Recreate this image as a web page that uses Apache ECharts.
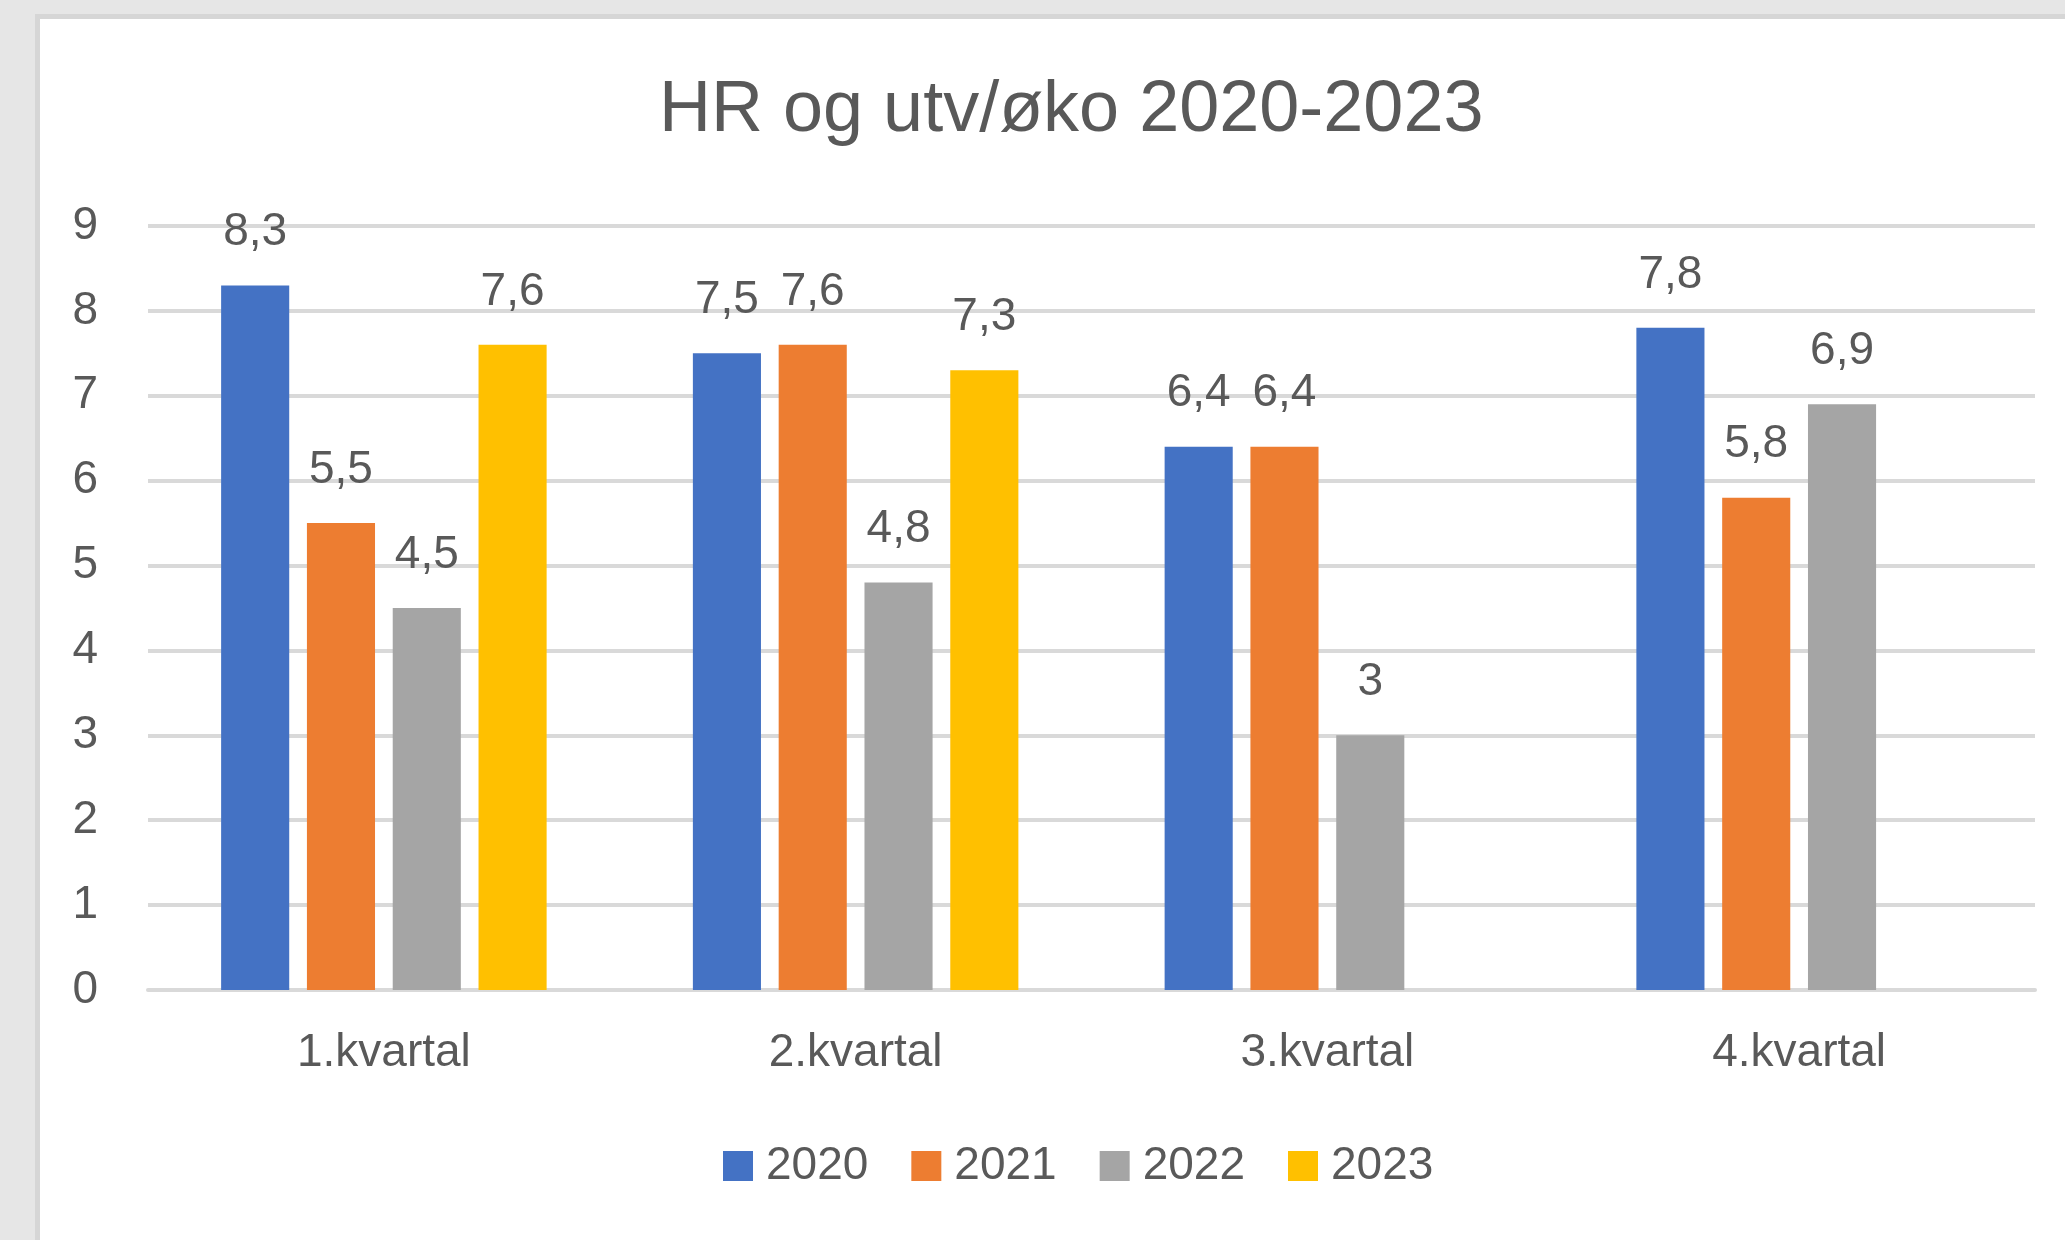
<!DOCTYPE html>
<html>
<head>
<meta charset="utf-8">
<title>HR og utv/øko 2020-2023</title>
<script src="https://cdn.jsdelivr.net/npm/echarts@6/dist/echarts.min.js"></script>
<style>
  html, body {
    margin: 0;
    padding: 0;
    background: #e6e6e6;
  }
  .panel {
    position: absolute;
    left: 35px;
    top: 14px;
    right: 0;
    bottom: 0;
    background: #fff;
    border-left: 5px solid #d6d6d6;
    border-top: 5px solid #d6d6d6;
  }
  #chart {
    position: absolute;
    left: 0;
    top: 0;
    width: 2065px;
    height: 1240px;
  }
</style>
</head>
<body>
<div class="panel"></div>
<div id="chart"></div>
<script>
const categories = ['1.kvartal', '2.kvartal', '3.kvartal', '4.kvartal']
const years = ['2020', '2021', '2022', '2023']
const values2020 = [8.3, 7.5, 6.4, 7.8]
const values2021 = [5.5, 7.6, 6.4, 5.8]
const values2022 = [4.5, 4.8, 3, 6.9]
const values2023 = [7.6, 7.3, null, null]
const colors = ['#4472C4', '#ED7D31', '#A5A5A5', '#FFC000']

const font = 'Liberation Sans, Arial, sans-serif'
const grey = '#595959'

const seriesValues = [values2020, values2021, values2022, values2023]

const chart = echarts.init(document.getElementById('chart'))
chart.setOption({
  animation: false,
  title: {
    text: 'HR og utv/øko 2020-2023',
    left: 654,
    top: 70,
    textStyle: { fontFamily: font, fontSize: 72, fontWeight: 'normal', color: grey },
  },
  legend: {
    data: years,
    left: 718,
    top: 1138,
    itemWidth: 30,
    itemHeight: 30,
    itemGap: 43,
    icon: 'rect',
    textStyle: { fontFamily: font, fontSize: 46, color: grey, padding: [0, 0, 0, 8] },
  },
  grid: { left: 148, right: 30, top: 226, bottom: 250 },
  xAxis: {
    type: 'category',
    data: categories,
    axisTick: { show: false },
    axisLine: { lineStyle: { color: '#d9d9d9', width: 4 } },
    axisLabel: { fontFamily: font, fontSize: 46, color: grey, margin: 40 },
  },
  yAxis: {
    type: 'value',
    min: 0,
    max: 9,
    interval: 1,
    axisLine: { show: false },
    axisTick: { show: false },
    axisLabel: { fontFamily: font, fontSize: 46, color: grey, margin: 50 },
    splitLine: { lineStyle: { color: '#d9d9d9', width: 4 } },
  },
  series: years.map((y, i) => ({
    name: y,
    type: 'bar',
    data: seriesValues[i],
    barGap: '26%',
    barCategoryGap: '31%',
    itemStyle: { color: colors[i] },
    label: {
      show: true,
      position: 'top',
      distance: 30,
      fontFamily: font,
      fontSize: 46,
      color: grey,
      formatter: p => String(p.value).replace('.', ','),
    },
  })),
})
</script>
</body>
</html>
